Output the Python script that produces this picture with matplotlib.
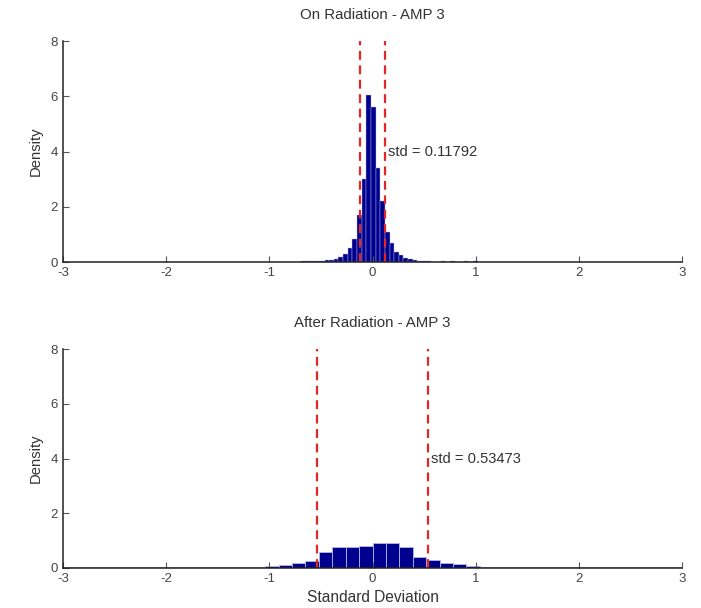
import numpy as np
import matplotlib
matplotlib.use("Agg")
import matplotlib.pyplot as plt

plt.rcParams['font.family'] = ['Liberation Sans', 'DejaVu Sans']

# ---- data ----
titles = ["On Radiation - AMP 3", "After Radiation - AMP 3"]
stds = [0.11792, 0.53473]

# top histogram: bins of width 0.045 starting at -0.69
top_start, top_width = -0.69, 0.045
top_density = [0.02, 0.03, 0.03, 0.04, 0.05, 0.06, 0.08, 0.10, 0.18, 0.30,
               0.50, 0.85, 1.70, 3.00, 6.05, 5.60, 3.40, 2.20, 1.10, 0.68,
               0.37, 0.25, 0.15, 0.10, 0.06, 0.03, 0.02, 0.02, 0.01, 0.01,
               0.02, 0.01, 0.02, 0.01, 0.01, 0.02, 0.01, 0.02]

# bottom histogram: bins of width 0.13 starting at -2.99
bot_start, bot_width = -2.99, 0.13
bot_density = [0.03, 0.03, 0.03, 0.03, 0.03, 0.03, 0.03, 0.03, 0.03, 0.03,
               0.03, 0.03, 0.03, 0.03, 0.05, 0.06, 0.12, 0.19, 0.24, 0.60,
               0.78, 0.78, 0.81, 0.90, 0.90, 0.78, 0.39, 0.28, 0.20, 0.14,
               0.06, 0.05, 0.05, 0.03, 0.03, 0.03, 0.03, 0.03, 0.03, 0.03,
               0.03, 0.03, 0.03, 0.03, 0.03, 0.03]

x_ticks = [-3, -2, -1, 0, 1, 2, 3]
y_ticks = [0, 2, 4, 6, 8]

fig = plt.figure(figsize=(7.01, 6.08), dpi=100)
ax_top = fig.add_axes([0.0899, 0.569, 0.883, 0.3635])
ax_bot = fig.add_axes([0.0899, 0.0658, 0.883, 0.360])

bar_color = '#00008f'
text_color = '#333333'

def draw(ax, start, width, dens, std, title, edge_lw):
    lefts = start + width * np.arange(len(dens))
    ax.bar(lefts, dens, width=width, align='edge', color=bar_color,
           edgecolor='#b8b8e8', linewidth=edge_lw)
    for s in (-std, std):
        ax.plot([s, s], [0, 8], color='#e02828', linestyle=(0, (4, 2.5)), linewidth=1.6)
    ax.text(std + 0.035, 4, "std = %.5f" % std, ha='left', va='center',
            fontsize=10.6, color=text_color)
    ax.set_xlim(-3, 3)
    ax.set_ylim(0, 8)
    ax.set_xticks(x_ticks)
    ax.set_yticks(y_ticks)
    ax.set_xticklabels([str(t) for t in x_ticks])
    ax.set_yticklabels([str(t) for t in y_ticks])
    ax.tick_params(direction='in', length=4, width=0.8, labelsize=9.5,
                   colors='#555555', labelcolor='#444444')
    for sp in ('top', 'right'):
        ax.spines[sp].set_visible(False)
    for sp in ('left', 'bottom'):
        ax.spines[sp].set_color('#222222')
        ax.spines[sp].set_linewidth(1.1)
    ax.set_title(title, fontsize=10.8, color=text_color, pad=16)
    ax.set_ylabel("Density", fontsize=10.6, color=text_color, labelpad=6)

draw(ax_top, top_start, top_width, top_density, stds[0], titles[0], 0.3)
draw(ax_bot, bot_start, bot_width, bot_density, stds[1], titles[1], 0.6)
ax_bot.set_xlabel("Standard Deviation", fontsize=11.2, color=text_color, labelpad=4)

fig.savefig("out.png", dpi=100)
